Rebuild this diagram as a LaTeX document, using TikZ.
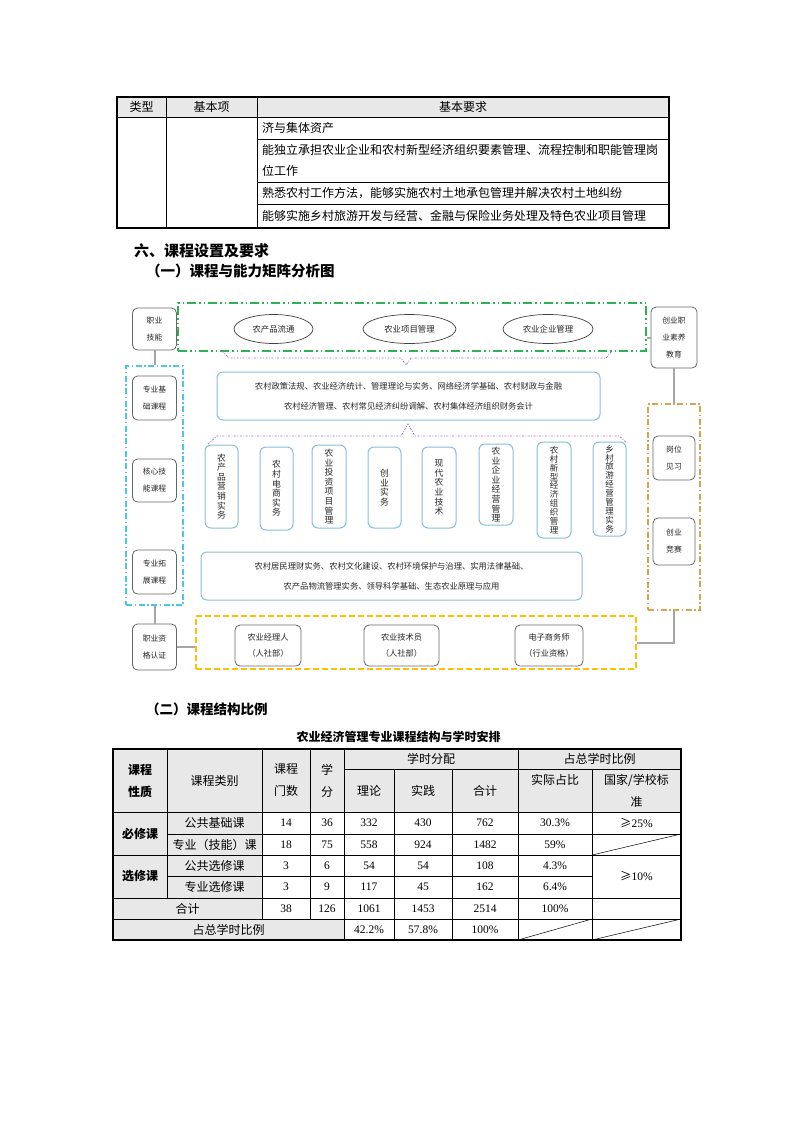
\documentclass[tikz,border=0pt]{standalone}
\usepackage{fontspec}
\usepackage{xcolor}
\usepackage{tikz}
\setmainfont{Liberation Serif}
\newfontfamily\cjk{Noto Sans CJK SC}
\usetikzlibrary{shapes.geometric, positioning}
\definecolor{linegray}{HTML}{A6A6A6}
\definecolor{bandgreen}{HTML}{2EB153}
\definecolor{bandcyan}{HTML}{4CC6E6}
\definecolor{bandorange}{HTML}{D9A24E}
\definecolor{bandyellow}{HTML}{FFC000}
\definecolor{bracepurple}{HTML}{A070D8}
\definecolor{courseblue}{HTML}{86BEDF}
\definecolor{cellgray}{HTML}{E8E8E8}
\tikzstyle{graybox}   = [rectangle, rounded corners=5pt, draw=black!60, line width=0.8pt, fill=white, inner sep=0pt, text=black!85, font=\cjk\fontsize{7.8}{17}\selectfont]
\tikzstyle{certbox}   = [graybox, font=\cjk\fontsize{8.2}{16.5}\selectfont]
\tikzstyle{coursebox} = [rectangle, rounded corners=6pt, draw=courseblue, line width=1pt, inner sep=0pt, text=black!85, font=\cjk\fontsize{8.3}{20}\selectfont]
\tikzstyle{vertbox}   = [coursebox, font=\cjk\fontsize{8.8}{9.6}\selectfont]
\tikzstyle{longvert}  = [coursebox, font=\cjk\fontsize{8.5}{8.9}\selectfont]
\tikzstyle{ability}   = [ellipse, draw=black!75, line width=0.7pt, inner sep=0pt, text=black!85, font=\cjk\fontsize{8.4}{10}\selectfont]
\tikzstyle{greenband} = [rectangle, draw=bandgreen, line width=1.6pt, dash pattern=on 9pt off 3pt on 1.5pt off 3pt on 1.5pt off 3pt]
\tikzstyle{cyanband}  = [rectangle, draw=bandcyan, line width=1.2pt, dash pattern=on 6pt off 2.5pt on 1.5pt off 2.5pt]
\tikzstyle{orangeband}= [rectangle, draw=bandorange, line width=1.1pt, dash pattern=on 6pt off 2.5pt on 1.5pt off 2.5pt]
\tikzstyle{yellowband}= [rectangle, draw=bandyellow, line width=1.5pt, dash pattern=on 6pt off 3pt]
\tikzstyle{link}      = [draw=linegray, line width=2pt]
\tikzstyle{brace}     = [draw=bracepurple, line width=0.8pt, dash pattern=on 2pt off 1.5pt on 0.8pt off 1.5pt]
\tikzstyle{cell}      = [inner sep=0pt, font=\cjk\fontsize{12}{22}\selectfont]
\tikzstyle{boldcell}  = [inner sep=0pt, font=\cjk\bfseries\fontsize{12}{22}\selectfont]
\tikzstyle{numcell}   = [inner sep=0pt, font=\fontsize{11.5}{14}\selectfont]
\tikzstyle{heading}   = [anchor=west, inner sep=0pt, font=\cjk\bfseries\fontsize{14.5}{16}\selectfont]
\tikzstyle{rule}      = [line width=0.5pt]
\tikzstyle{frame}     = [line width=1.2pt]
\tikzset{every node/.style={align=center}}

\begin{document}
\begin{tikzpicture}[x=1pt,y=-1pt]
    \useasboundingbox (0,0) rectangle (793,1122);

    % requirement table (continued)
    \fill [cellgray] (117,97) rectangle (669,117);
    \draw [rule] (117,117) -- (669,117) (257,139) -- (669,139) (257,182) -- (669,182) (257,204) -- (669,204);
    \draw [rule] (166,97) -- (166,228) (257,97) -- (257,228);
    \draw [frame] (117,97) rectangle (669,228);
    \node (ttype) at (141.5,107) [cell] {类型};
    \node (titem) at (211.5,107) [cell] {基本项};
    \node (treq)  at (463,107)   [cell] {基本要求};
    \node (req1)  at (262,128)   [cell, anchor=west] {济与集体资产};
    \node (req2)  at (262,150)   [cell, anchor=west] {能独立承担农业企业和农村新型经济组织要素管理、流程控制和职能管理岗};
    \node (req2b) at (262,171)   [cell, anchor=west] {位工作};
    \node (req3)  at (262,193)   [cell, anchor=west] {熟悉农村工作方法，能够实施农村土地承包管理并解决农村土地纠纷};
    \node (req4)  at (262,216)   [cell, anchor=west] {能够实施乡村旅游开发与经营、金融与保险业务处理及特色农业项目管理};

    \node (sec6) at (134,251) [heading, font=\cjk\bfseries\fontsize{15}{16}\selectfont] {六、课程设置及要求};
    \node (sub1) at (146,271) [heading] {（一）课程与能力矩阵分析图};

    % matrix diagram
    \node (job)    at (154.5,329)   [graybox, minimum width=44pt, minimum height=42pt] {职业\\技能};
    \node (skills) at (412,327)     [greenband, minimum width=468pt, minimum height=48pt] {};
    \node (flow)   at (273.5,329)   [ability, minimum width=79pt, minimum height=29pt] {农产品流通};
    \node (proj)   at (409.5,329)   [ability, minimum width=93pt, minimum height=29pt] {农业项目管理};
    \node (firm)   at (548,329)     [ability, minimum width=90pt, minimum height=29pt] {农业企业管理};
    \node (entre)  at (674,337.5)   [graybox, minimum width=46pt, minimum height=61pt] {创业职\\业素养\\教育};

    \node (courses) at (154.5,485.5) [cyanband, minimum width=57pt, minimum height=239pt] {};
    \node (base)    at (154.5,398)   [graybox, minimum width=44pt, minimum height=44pt] {专业基\\础课程};
    \node (core)    at (154.5,480.5) [graybox, minimum width=44pt, minimum height=43pt] {核心技\\能课程};
    \node (ext)     at (154.5,572)   [graybox, minimum width=44pt, minimum height=44pt] {专业拓\\展课程};
    \node (qual)    at (154.5,647)   [graybox, minimum width=44pt, minimum height=46pt] {职业资\\格认证};

    \node (basics) at (408.5,396) [coursebox, minimum width=383pt, minimum height=48pt] {农村政策法规、农业经济统计、管理理论与实务、网络经济学基础、农村财政与金融\\农村经济管理、农村常见经济纠纷调解、农村集体经济组织财务会计};
    \node (v1) at (221.5,486.5) [vertbox, minimum width=33pt, minimum height=83pt] {农\\产\\品\\营\\销\\实\\务};
    \node (v2) at (276.5,488.5) [vertbox, minimum width=33pt, minimum height=83pt] {农\\村\\电\\商\\实\\务};
    \node (v3) at (329,486.5)   [vertbox, minimum width=34pt, minimum height=83pt] {农\\业\\投\\资\\项\\目\\管\\理};
    \node (v4) at (384.5,487.5) [vertbox, minimum width=33pt, minimum height=81pt] {创\\业\\实\\务};
    \node (v5) at (439,487.5)   [vertbox, minimum width=34pt, minimum height=81pt] {现\\代\\农\\业\\技\\术};
    \node (v6) at (496,484.5)   [vertbox, minimum width=34pt, minimum height=81pt] {农\\业\\企\\业\\经\\营\\管\\理};
    \node (v7) at (554,490)     [longvert, minimum width=34pt, minimum height=96pt] {农\\村\\新\\型\\经\\济\\组\\织\\管\\理};
    \node (v8) at (609.5,489)   [longvert, minimum width=33pt, minimum height=94pt] {乡\\村\\旅\\游\\经\\营\\管\\理\\实\\务};
    \node (extra) at (391.5,576) [coursebox, minimum width=381pt, minimum height=48pt] {农村居民理财实务、农村文化建设、农村环境保护与治理、实用法律基础、\\农产品物流管理实务、领导科学基础、生态农业原理与应用};

    \node (career)  at (674,507)   [orangeband, minimum width=52pt, minimum height=206pt] {};
    \node (intern)  at (674,458)   [graybox, minimum width=42pt, minimum height=44pt] {岗位\\见习};
    \node (contest) at (674,541.5) [graybox, minimum width=42pt, minimum height=47pt] {创业\\竞赛};

    \node (certs) at (416,642.5)  [yellowband, minimum width=440pt, minimum height=53pt] {};
    \node (mgr)   at (268,645.5)  [certbox, minimum width=66pt, minimum height=41pt] {农业经理人\\（人社部）};
    \node (tech)  at (401.5,645.5)[certbox, minimum width=75pt, minimum height=41pt] {农业技术员\\（人社部）};
    \node (ecom)  at (549,645.5)  [certbox, minimum width=68pt, minimum height=41pt] {电子商务师\\（行业资格）};

    \coordinate (tipA) at (406,365);
    \coordinate (tipB) at (408,424);

    \draw [link] (job.east) -- (job.east -| skills.west);
    \draw [link] (skills.east |- entre.west) -- (entre.west);
    \draw [link] (job) -- (courses);
    \draw [link] (courses) -- (qual);
    \draw [link] (qual.east) -- (qual.east -| certs.west);
    \draw [link] (entre) -- (career);
    \draw [link] (career.south) |- (certs.east);
    \draw [brace] (222,351) -- (229,358) -- (401,358) -- (tipA) -- (411,358) -- (606,358) -- (612,351);
    \draw [brace] (208,444) -- (217,436) -- (401,436) -- (tipB) -- (415,436) -- (619,436) -- (626,442);

    \node (sub2)  at (146,709)   [heading, font=\cjk\bfseries\fontsize{13.5}{16}\selectfont] {（二）课程结构比例};
    \node (title) at (398.5,737) [boldcell] {农业经济管理专业课程结构与学时安排};

    % course structure table
    \fill [cellgray] (113,749) rectangle (681,812);
    \fill [cellgray] (113,812) rectangle (262,919);
    \fill [cellgray] (113,919) rectangle (344,940);
    \draw [rule] (344,769) -- (681,769) (113,812) -- (681,812) (167,834) -- (681,834) (113,855) -- (681,855);
    \draw [rule] (167,876) -- (592,876) (113,898) -- (681,898) (113,919) -- (681,919);
    \draw [rule] (167,749) -- (167,898) (262,749) -- (262,919) (310,749) -- (310,919);
    \draw [rule] (344,749) -- (344,940) (518,749) -- (518,940);
    \draw [rule] (394,769) -- (394,940) (452,769) -- (452,940) (592,769) -- (592,940);
    \draw [rule] (592,855) -- (681,834) (518,940) -- (592,919) (592,940) -- (681,919);
    \draw [frame] (113,749) rectangle (681,940);

    \node (hnat)   at (140,780.5)   [boldcell] {课程\\性质};
    \node (hcat)   at (214.5,780.5) [cell] {课程类别};
    \node (hcnt)   at (286,780.5)   [cell] {课程\\门数};
    \node (hcrd)   at (327,780.5)   [cell] {学\\分};
    \node (hdist)  at (431,759)     [cell] {学时分配};
    \node (hshare) at (599.5,759)   [cell] {占总学时比例};
    \node (hthe)   at (369,790.5)   [cell] {理论};
    \node (hpra)   at (423,790.5)   [cell] {实践};
    \node (hsum)   at (485,790.5)   [cell] {合计};
    \node (hact)   at (555,780)     [cell] {实际占比};
    \node (hstd)   at (636.5,791)   [cell] {国家/学校标\\准};

    \node (must)   at (140,833.5)   [boldcell] {必修课};
    \node (elect)  at (140,876.5)   [boldcell] {选修课};
    \node (pubb)   at (214.5,823)   [cell] {公共基础课};
    \node (majc)   at (214.5,844.5) [cell] {专业（技能）课};
    \node (pube)   at (214.5,865.5) [cell] {公共选修课};
    \node (maje)   at (214.5,887)   [cell] {专业选修课};
    \node (total)  at (187.5,908.5) [cell] {合计};
    \node (share)  at (228.5,929.5) [cell] {占总学时比例};

    \node (a2) at (286,823) [numcell] {14};
    \node (a3) at (327,823) [numcell] {36};
    \node (a4) at (369,823) [numcell] {332};
    \node (a5) at (423,823) [numcell] {430};
    \node (a6) at (485,823) [numcell] {762};
    \node (a7) at (555,823) [numcell] {30.3\%};
    \node (a8) at (636.5,823) [numcell] {{\cjk ≥}25\%};
    \node (b2) at (286,844.5) [numcell] {18};
    \node (b3) at (327,844.5) [numcell] {75};
    \node (b4) at (369,844.5) [numcell] {558};
    \node (b5) at (423,844.5) [numcell] {924};
    \node (b6) at (485,844.5) [numcell] {1482};
    \node (b7) at (555,844.5) [numcell] {59\%};
    \node (c2) at (286,865.5) [numcell] {3};
    \node (c3) at (327,865.5) [numcell] {6};
    \node (c4) at (369,865.5) [numcell] {54};
    \node (c5) at (423,865.5) [numcell] {54};
    \node (c6) at (485,865.5) [numcell] {108};
    \node (c7) at (555,865.5) [numcell] {4.3\%};
    \node (c8) at (636.5,876.5) [numcell] {{\cjk ≥}10\%};
    \node (d2) at (286,887) [numcell] {3};
    \node (d3) at (327,887) [numcell] {9};
    \node (d4) at (369,887) [numcell] {117};
    \node (d5) at (423,887) [numcell] {45};
    \node (d6) at (485,887) [numcell] {162};
    \node (d7) at (555,887) [numcell] {6.4\%};
    \node (e2) at (286,908.5) [numcell] {38};
    \node (e3) at (327,908.5) [numcell] {126};
    \node (e4) at (369,908.5) [numcell] {1061};
    \node (e5) at (423,908.5) [numcell] {1453};
    \node (e6) at (485,908.5) [numcell] {2514};
    \node (e7) at (555,908.5) [numcell] {100\%};
    \node (f4) at (369,929.5) [numcell] {42.2\%};
    \node (f5) at (423,929.5) [numcell] {57.8\%};
    \node (f6) at (485,929.5) [numcell] {100\%};
\end{tikzpicture}
\end{document}
